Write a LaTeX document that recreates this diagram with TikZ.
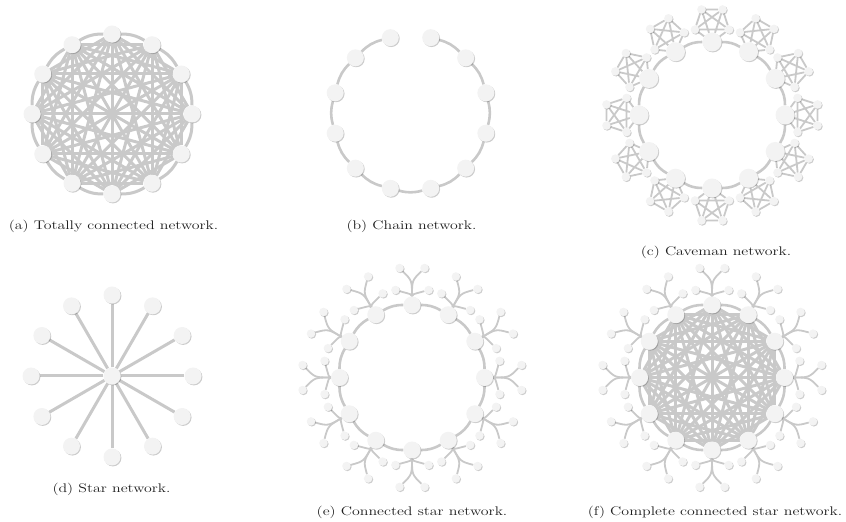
\documentclass[tikz,border=0pt]{standalone}
\usepackage{graphicx}
\usetikzlibrary{shadows}
\definecolor{edgegray}{HTML}{C9C9C9}
\definecolor{nodefill}{HTML}{F3F3F3}
\definecolor{captext}{HTML}{1E1E1E}
\pgfdeclarelayer{edges}
\pgfsetlayers{edges,main}
% caption text: wide serif setting
\newcommand\subcap[1]{\scalebox{1.27}[1]{\fontsize{12.5}{15}\selectfont #1}}
\tikzset{
  vtx/.style={circle, inner sep=0pt, fill=nodefill,
    drop shadow={shadow xshift=0.9pt, shadow yshift=-0.9pt, opacity=0.2, fill=black}},
  hub/.style={vtx, minimum size=17pt},
  bighub/.style={vtx, minimum size=19pt},
  leaf/.style={vtx, minimum size=8.5pt},
  link/.style={draw=edgegray, line width=3pt},
  ringlink/.style={draw=edgegray, line width=2.6pt},
  thinlink/.style={draw=edgegray, line width=1.8pt},
  caption/.style={text=captext, inner sep=0pt}
}
\begin{document}
\begin{tikzpicture}[x=1pt,y=1pt]
\useasboundingbox (0,0) rectangle (846,522);

% ---------- (a) totally connected ----------
\begin{scope}[shift={(112,408)}]
  \foreach \i in {0,...,11} \node[hub] (a\i) at (90+30*\i:80) {};
  \begin{pgfonlayer}{edges}
    \foreach \i in {0,...,11}{
      \pgfmathtruncatemacro\nx{mod(\i+1,12)}
      \draw[link] (a\i) to[bend right=15] (a\nx);
    }
    \foreach \i in {0,...,9}{
      \pgfmathtruncatemacro\lo{\i+2}
      \pgfmathtruncatemacro\hi{min(\i+10,11)}
      \foreach \j in {\lo,...,\hi} \draw[link] (a\i) -- (a\j);
    }
  \end{pgfonlayer}
\end{scope}
\node[caption] (capa) at (113.5,296) {\subcap{(a) Totally connected network.}};

% ---------- (b) chain ----------
\begin{scope}[shift={(410.5,409)}]
  \foreach \i in {0,...,11} \node[hub] (b\i) at (105+30*\i:78) {};
  \begin{pgfonlayer}{edges}
    \foreach \i in {0,...,10}{
      \pgfmathtruncatemacro\nx{\i+1}
      \draw[ringlink] (b\i) to[bend right=15] (b\nx);
    }
  \end{pgfonlayer}
\end{scope}
\node[caption] (capb) at (411.5,296) {\subcap{(b) Chain network.}};

% ---------- (c) caveman ----------
\begin{scope}[shift={(712,407)}]
  \foreach \i in {0,...,11}{
    \pgfmathsetmacro\t{90+30*\i}
    \node[bighub] (c\i) at (\t:73) {};
    \node[leaf] (c\i-1) at ({91*cos(\t)+18*cos(\t+36)},{91*sin(\t)+18*sin(\t+36)}) {};
    \node[leaf] (c\i-2) at ({91*cos(\t)+18*cos(\t+108)},{91*sin(\t)+18*sin(\t+108)}) {};
    \node[leaf] (c\i-3) at ({91*cos(\t)+18*cos(\t-108)},{91*sin(\t)+18*sin(\t-108)}) {};
    \node[leaf] (c\i-4) at ({91*cos(\t)+18*cos(\t-36)},{91*sin(\t)+18*sin(\t-36)}) {};
    \begin{pgfonlayer}{edges}
      \draw[thinlink] (c\i) -- (c\i-2) -- (c\i-1) -- (c\i-4) -- (c\i-3) -- (c\i);
      \draw[thinlink] (c\i) -- (c\i-1) -- (c\i-3) -- (c\i-2) -- (c\i-4) -- (c\i);
    \end{pgfonlayer}
  }
  \begin{pgfonlayer}{edges}
    \foreach \i in {0,...,11}{
      \pgfmathtruncatemacro\nx{mod(\i+1,12)}
      \draw[ringlink] (c\i) to[bend right=15] (c\nx);
    }
  \end{pgfonlayer}
\end{scope}
\node[caption] (capc) at (716,270) {\subcap{(c) Caveman network.}};

% ---------- (d) star ----------
\begin{scope}[shift={(112,146)}]
  \node[hub] (d) at (0,0) {};
  \foreach \i in {0,...,11}{
    \node[hub] (d\i) at (90+30*\i:81) {};
    \begin{pgfonlayer}{edges}\draw[link] (d) -- (d\i);\end{pgfonlayer}
  }
\end{scope}
\node[caption] (capd) at (111.5,33) {\subcap{(d) Star network.}};

% ---------- ring of small stars (used by e and f) ----------
\newcommand\starring[1]{%
  \foreach \i in {0,...,11}{
    \pgfmathsetmacro\t{90+30*\i}
    \node[hub] (#1\i) at (\t:72.5) {};
    \node[leaf] (#1\i-1) at ({72.5*cos(\t)+39*cos(\t+18.7)},{72.5*sin(\t)+39*sin(\t+18.7)}) {};
    \node[leaf] (#1\i-2) at ({72.5*cos(\t)+39*cos(\t-18.7)},{72.5*sin(\t)+39*sin(\t-18.7)}) {};
    \node[leaf] (#1\i-3) at ({72.5*cos(\t)+22.4*cos(\t+48)},{72.5*sin(\t)+22.4*sin(\t+48)}) {};
    \node[leaf] (#1\i-4) at ({72.5*cos(\t)+22.4*cos(\t-48)},{72.5*sin(\t)+22.4*sin(\t-48)}) {};
    \begin{pgfonlayer}{edges}
      \draw[thinlink] (#1\i) .. controls ({97*cos(\t)},{97*sin(\t)}) .. (#1\i-1);
      \draw[thinlink] (#1\i) .. controls ({97*cos(\t)},{97*sin(\t)}) .. (#1\i-2);
      \draw[thinlink] (#1\i) .. controls ({83*cos(\t)},{83*sin(\t)}) .. (#1\i-3);
      \draw[thinlink] (#1\i) .. controls ({83*cos(\t)},{83*sin(\t)}) .. (#1\i-4);
    \end{pgfonlayer}
  }
  \begin{pgfonlayer}{edges}
    \foreach \i in {0,...,11}{
      \pgfmathtruncatemacro\nx{mod(\i+1,12)}
      \draw[ringlink] (#1\i) to[bend right=15] (#1\nx);
    }
  \end{pgfonlayer}%
}

% ---------- (e) connected star ----------
\begin{scope}[shift={(412,144.5)}]
  \starring{e}
\end{scope}
\node[caption] (cape) at (412,10) {\subcap{(e) Connected star network.}};

% ---------- (f) complete connected star ----------
\begin{scope}[shift={(712,144.5)}]
  \starring{f}
  \begin{pgfonlayer}{edges}
    \foreach \i in {0,...,9}{
      \pgfmathtruncatemacro\lo{\i+2}
      \pgfmathtruncatemacro\hi{min(\i+10,11)}
      \foreach \j in {\lo,...,\hi} \draw[link] (f\i) -- (f\j);
    }
  \end{pgfonlayer}
\end{scope}
\node[caption] (capf) at (715,10) {\subcap{(f) Complete connected star network.}};
\end{tikzpicture}
\end{document}
